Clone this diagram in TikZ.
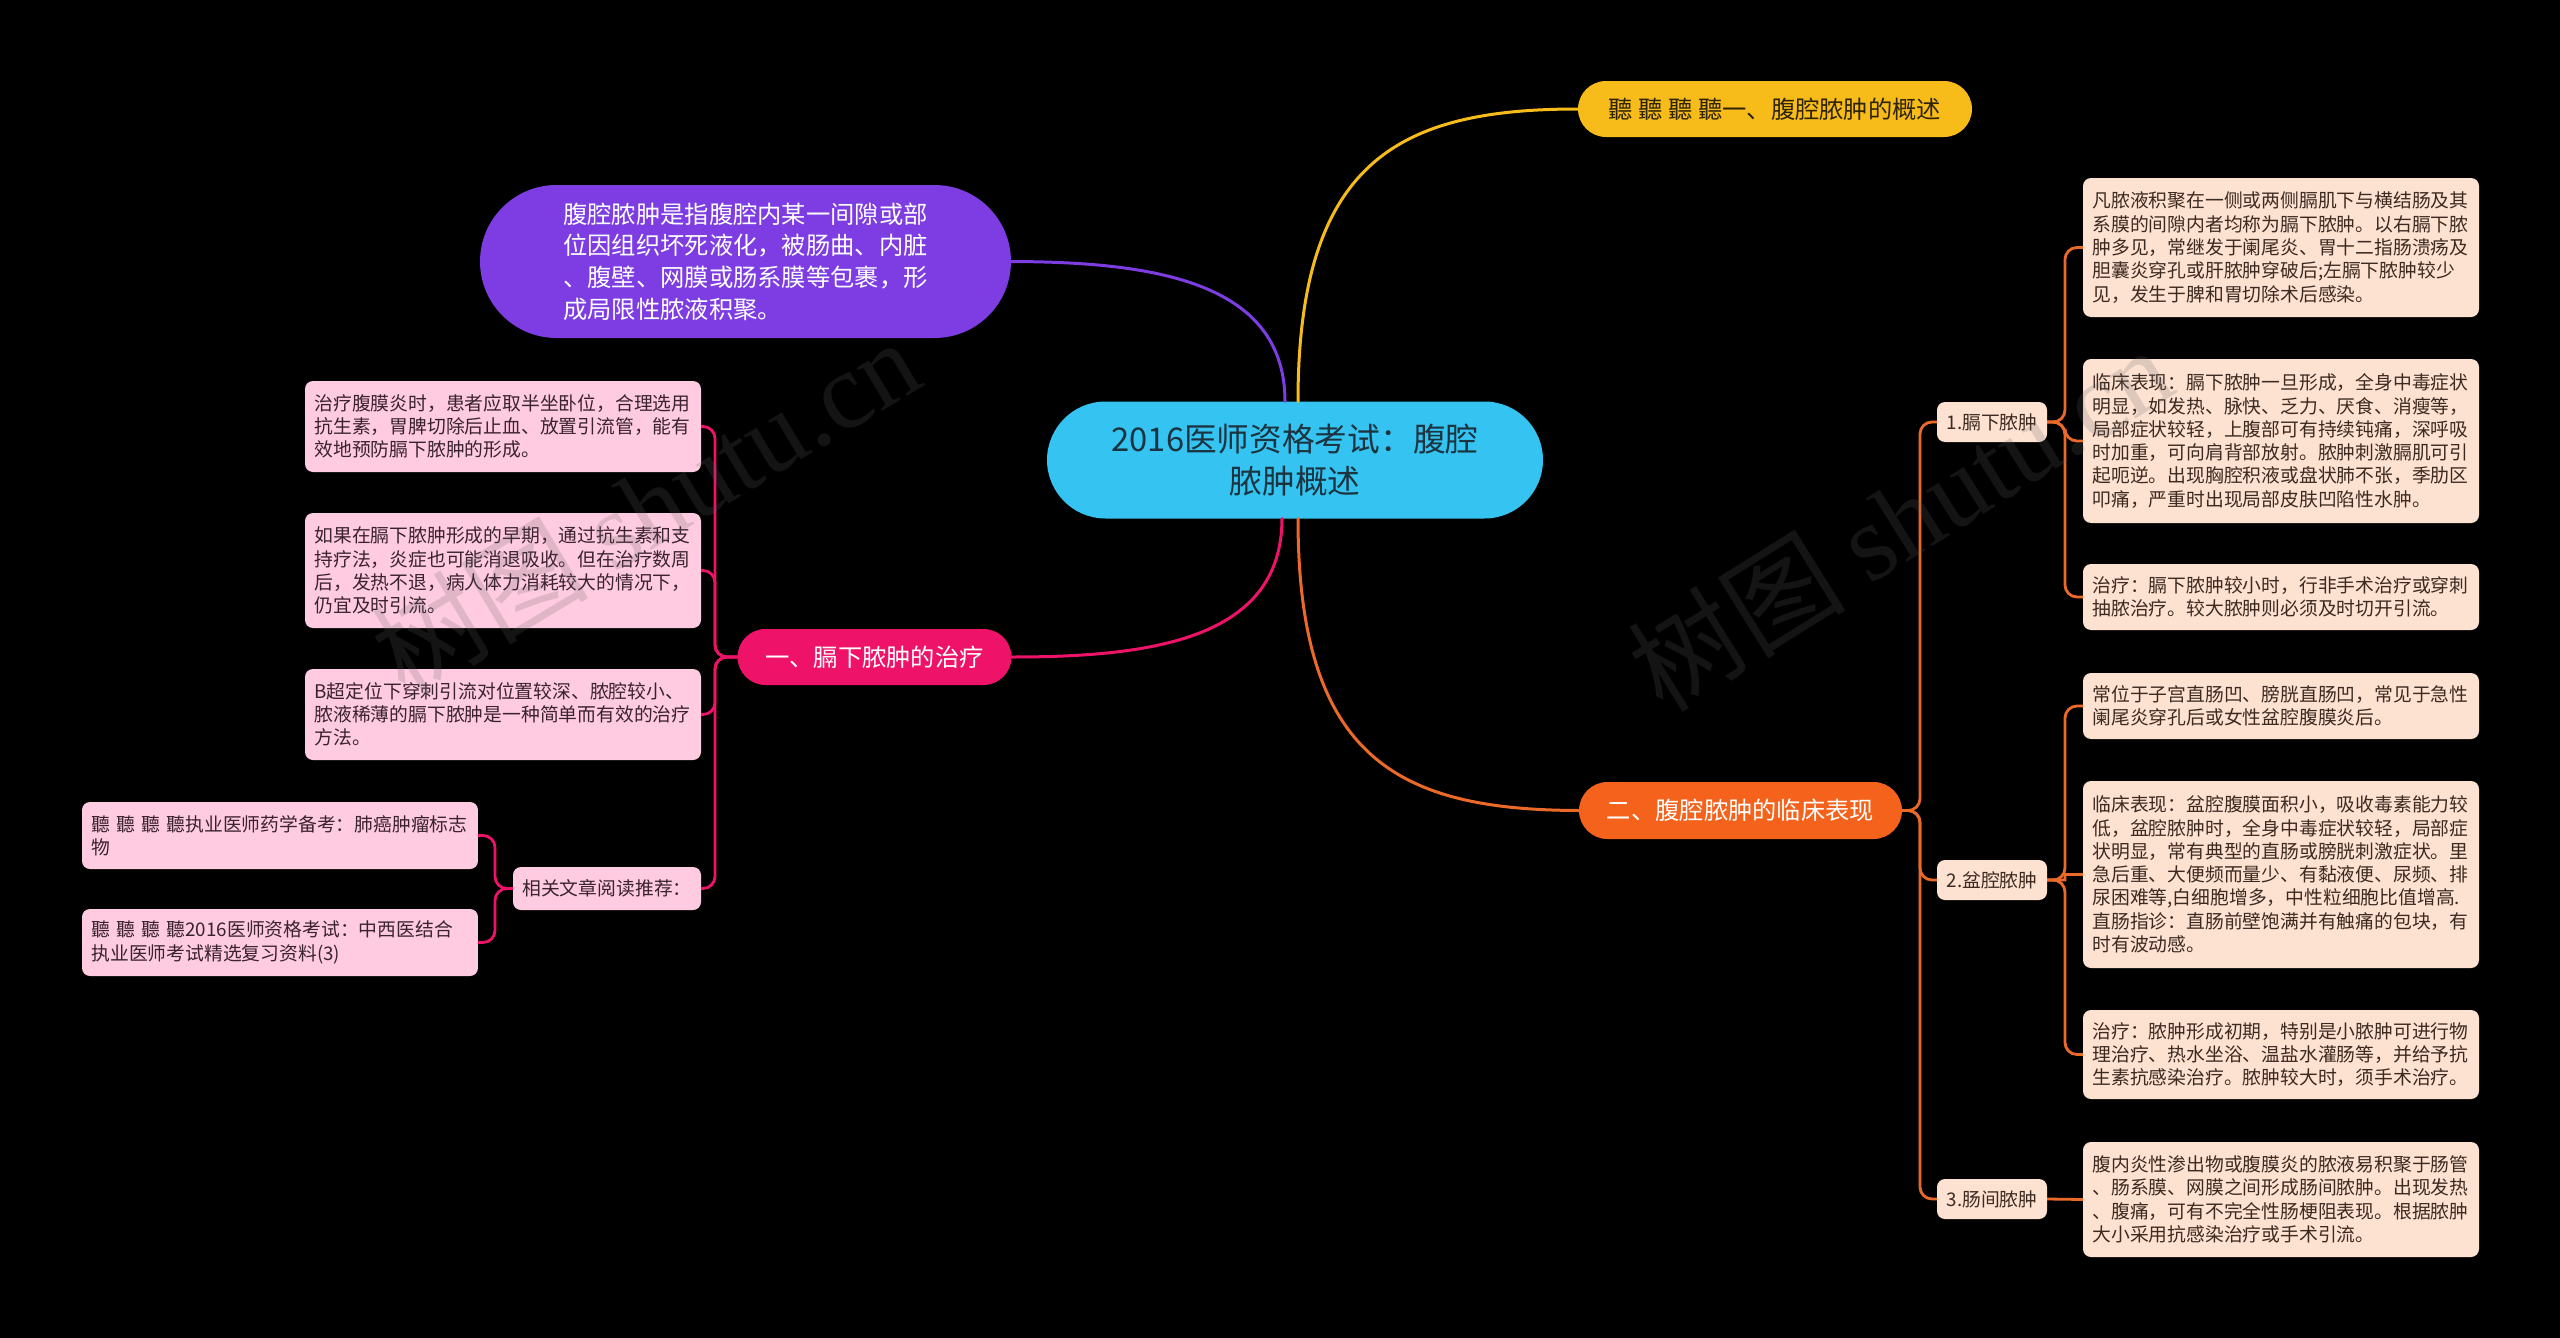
\documentclass[tikz,border=0pt]{standalone}
\usepackage{fontspec}
\setmainfont{Noto Sans CJK SC}
\newfontfamily\wmlatin{Liberation Serif}
\newcommand\myleaf{\fontsize{5.35pt}{6.63pt}\selectfont}
\newcommand\mymain{\fontsize{6.91pt}{9.02pt}\selectfont}
\newcommand\mycenter{\fontsize{9.3pt}{11.86pt}\selectfont}
\newcommand\mywm{\fontsize{31pt}{34pt}\selectfont}
\definecolor{cblue}{HTML}{35C4F2}
\definecolor{ctext}{HTML}{1C3340}
\definecolor{cyellow}{HTML}{F7BC19}
\definecolor{ytext}{HTML}{2E2306}
\definecolor{cpurple}{HTML}{7D3DE2}
\definecolor{cpink}{HTML}{EE1368}
\definecolor{corange}{HTML}{F4621B}
\definecolor{lorange}{HTML}{EB6A2A}
\definecolor{peach}{HTML}{FDE1D1}
\definecolor{rtext}{HTML}{3C2A20}
\definecolor{lpink}{HTML}{FFCBE0}
\definecolor{ltext}{HTML}{3A2230}
\definecolor{wmgray}{HTML}{646464}
\begin{document}
\begin{tikzpicture}[x=0.1mm,y=-0.1mm,
  every node/.style={inner sep=0pt, outer sep=0pt},
  pill/.style={align=center, font=\mymain},
  rleaf/.style={fill=peach, text=rtext, rounded corners=0.8mm, anchor=north west,
    text width=37.7mm, inner xsep=0.95mm, align=left, font=\myleaf},
  lleaf/.style={fill=lpink, text=ltext, rounded corners=0.8mm, anchor=north west,
    text width=37.7mm, inner xsep=0.95mm, align=left, font=\myleaf},
  subnode/.style={fill=peach, text=rtext, rounded corners=0.8mm, minimum width=11mm,
    minimum height=4mm, font=\myleaf},
  relnode/.style={fill=lpink, text=ltext, rounded corners=0.8mm, minimum width=18.8mm,
    minimum height=4.3mm, font=\myleaf},
  link/.style={line width=0.3mm, line cap=round},
  brk/.style={line width=0.28mm, rounded corners=1.2mm},
  wm/.style={text=wmgray, opacity=0.2, font=\mywm}
]
\fill[black] (0,0) rectangle (2560,1338);
\useasboundingbox (0,0) rectangle (2560,1338);

% main nodes
\node[pill, fill=cblue, text=ctext, rounded corners=5.85mm, minimum width=49.6mm,
  minimum height=11.7mm, font=\mycenter] (c) at (1295,460) {2016医师资格考试：腹腔\\脓肿概述};
\node[pill, fill=cyellow, text=ytext, rounded corners=2.8mm, minimum width=39.4mm,
  minimum height=5.6mm] (y) at (1775,109) {聽~聽~聽~聽一、腹腔脓肿的概述};
\node[fill=cpurple, text=white, rounded corners=7.65mm, minimum width=53.1mm,
  minimum height=15.3mm, align=left, font=\mymain] (p) at (745.5,261.5)
  {腹腔脓肿是指腹腔内某一间隙或部\\位因组织坏死液化，被肠曲、内脏\\、腹壁、网膜或肠系膜等包裹，形\\成局限性脓液积聚。};
\node[pill, fill=cpink, text=white, rounded corners=2.8mm, minimum width=27.4mm,
  minimum height=5.6mm] (t) at (874.5,657) {一、膈下脓肿的治疗};
\node[pill, fill=corange, text=white, rounded corners=2.85mm, minimum width=32.3mm,
  minimum height=5.7mm] (o) at (1740.5,810.5) {二、腹腔脓肿的临床表现};

% right side
\node[subnode] (s1) at (1992,422) {1.膈下脓肿};
\node[subnode] (s2) at (1992,880) {2.盆腔脓肿};
\node[subnode] (s3) at (1992,1199) {3.肠间脓肿};

\node[rleaf, minimum height=13.9mm] (r1) at (2083,178)
  {凡脓液积聚在一侧或两侧膈肌下与横结肠及其\\系膜的间隙内者均称为膈下脓肿。以右膈下脓\\肿多见，常继发于阑尾炎、胃十二指肠溃疡及\\胆囊炎穿孔或肝脓肿穿破后;左膈下脓肿较少\\见，发生于脾和胃切除术后感染。};
\node[rleaf, minimum height=16.4mm] (r2) at (2083,359)
  {临床表现：膈下脓肿一旦形成，全身中毒症状\\明显，如发热、脉快、乏力、厌食、消瘦等，\\局部症状较轻，上腹部可有持续钝痛，深呼吸\\时加重，可向肩背部放射。脓肿刺激膈肌可引\\起呃逆。出现胸腔积液或盘状肺不张，季肋区\\叩痛，严重时出现局部皮肤凹陷性水肿。};
\node[rleaf, minimum height=6.6mm] (r3) at (2083,564)
  {治疗：膈下脓肿较小时，行非手术治疗或穿刺\\抽脓治疗。较大脓肿则必须及时切开引流。};
\node[rleaf, minimum height=6.6mm] (r4) at (2083,673)
  {常位于子宫直肠凹、膀胱直肠凹，常见于急性\\阑尾炎穿孔后或女性盆腔腹膜炎后。};
\node[rleaf, minimum height=18.7mm] (r5) at (2083,781)
  {临床表现：盆腔腹膜面积小，吸收毒素能力较\\低，盆腔脓肿时，全身中毒症状较轻，局部症\\状明显，常有典型的直肠或膀胱刺激症状。里\\急后重、大便频而量少、有黏液便、尿频、排\\尿困难等,白细胞增多，中性粒细胞比值增高.\\直肠指诊：直肠前壁饱满并有触痛的包块，有\\时有波动感。};
\node[rleaf, minimum height=8.9mm] (r6) at (2083,1010)
  {治疗：脓肿形成初期，特别是小脓肿可进行物\\理治疗、热水坐浴、温盐水灌肠等，并给予抗\\生素抗感染治疗。脓肿较大时，须手术治疗。};
\node[rleaf, minimum height=11.5mm] (r7) at (2083,1142)
  {腹内炎性渗出物或腹膜炎的脓液易积聚于肠管\\、肠系膜、网膜之间形成肠间脓肿。出现发热\\、腹痛，可有不完全性肠梗阻表现。根据脓肿\\大小采用抗感染治疗或手术引流。};

% left side
\node[lleaf, minimum height=9.1mm] (l1) at (305,381)
  {治疗腹膜炎时，患者应取半坐卧位，合理选用\\抗生素，胃脾切除后止血、放置引流管，能有\\效地预防膈下脓肿的形成。};
\node[lleaf, minimum height=11.5mm] (l2) at (305,513)
  {如果在膈下脓肿形成的早期，通过抗生素和支\\持疗法，炎症也可能消退吸收。但在治疗数周\\后，发热不退，病人体力消耗较大的情况下，\\仍宜及时引流。};
\node[lleaf, minimum height=9.1mm] (l3) at (305,669)
  {B超定位下穿刺引流对位置较深、脓腔较小、\\脓液稀薄的膈下脓肿是一种简单而有效的治疗\\方法。};
\node[relnode] (rel) at (607,888.5) {相关文章阅读推荐：};
\node[lleaf, minimum height=6.7mm] (l4) at (82,802)
  {聽~聽~聽~聽执业医师药学备考：肺癌肿瘤标志\\物};
\node[lleaf, minimum height=6.7mm] (l5) at (82,909)
  {聽~聽~聽~聽2016医师资格考试：中西医结合\\执业医师考试精选复习资料(3)};

% main connectors
\draw[link, cyellow] ([xshift=0.3mm]c.north) .. controls (1298,160) and (1400,109) .. (y.west);
\draw[link, cpurple] ([xshift=-1mm]c.north) .. controls (1285,280) and (1150,262) .. (p.east);
\draw[link, cpink] ([xshift=-1.3mm]c.south) .. controls (1282,640) and (1150,657) .. (t.east);
\draw[link, lorange] ([xshift=0.3mm]c.south) .. controls (1298,760) and (1400,810) .. (o.west);

% orange brackets
\draw[brk, lorange] (o.east) -| (1920,422) -- (s1.west);
\draw[brk, lorange] (o.east) -| (1920,880) -- (s2.west);
\draw[brk, lorange] (o.east) -| (1920,1199) -- (s3.west);
\draw[brk, lorange] (s1.east) -| (2065,247.5) -- (r1.west);
\draw[brk, lorange] (s1.east) -| (2065,441) -- (r2.west);
\draw[brk, lorange] (s1.east) -| (2065,597) -- (r3.west);
\draw[brk, lorange] (s2.east) -| (2065,706) -- (r4.west);
\draw[line width=0.28mm, lorange] (s2.east) -- (2065,880) -- (2065,874.5) -- (r5.west);
\draw[brk, lorange] (s2.east) -| (2065,1054.5) -- (r6.west);
\draw[line width=0.28mm, lorange] (s3.east) -- (r7.west);

% pink brackets
\draw[brk, cpink] (t.west) -| (715,426.5) -- (l1.east);
\draw[brk, cpink] (t.west) -| (715,570.5) -- (l2.east);
\draw[brk, cpink] (t.west) -| (715,714.5) -- (l3.east);
\draw[brk, cpink] (t.west) -| (715,888.5) -- (rel.east);
\draw[brk, cpink] (rel.west) -| (495,835.5) -- (l4.east);
\draw[brk, cpink] (rel.west) -| (495,942.5) -- (l5.east);

% watermarks
\node[wm, rotate=31] (w1) at (645,506) {树图 {\wmlatin shutu.cn}};
\node[wm, rotate=32] (w2) at (1900,518) {树图 {\wmlatin shutu.cn}};
\end{tikzpicture}
\end{document}
